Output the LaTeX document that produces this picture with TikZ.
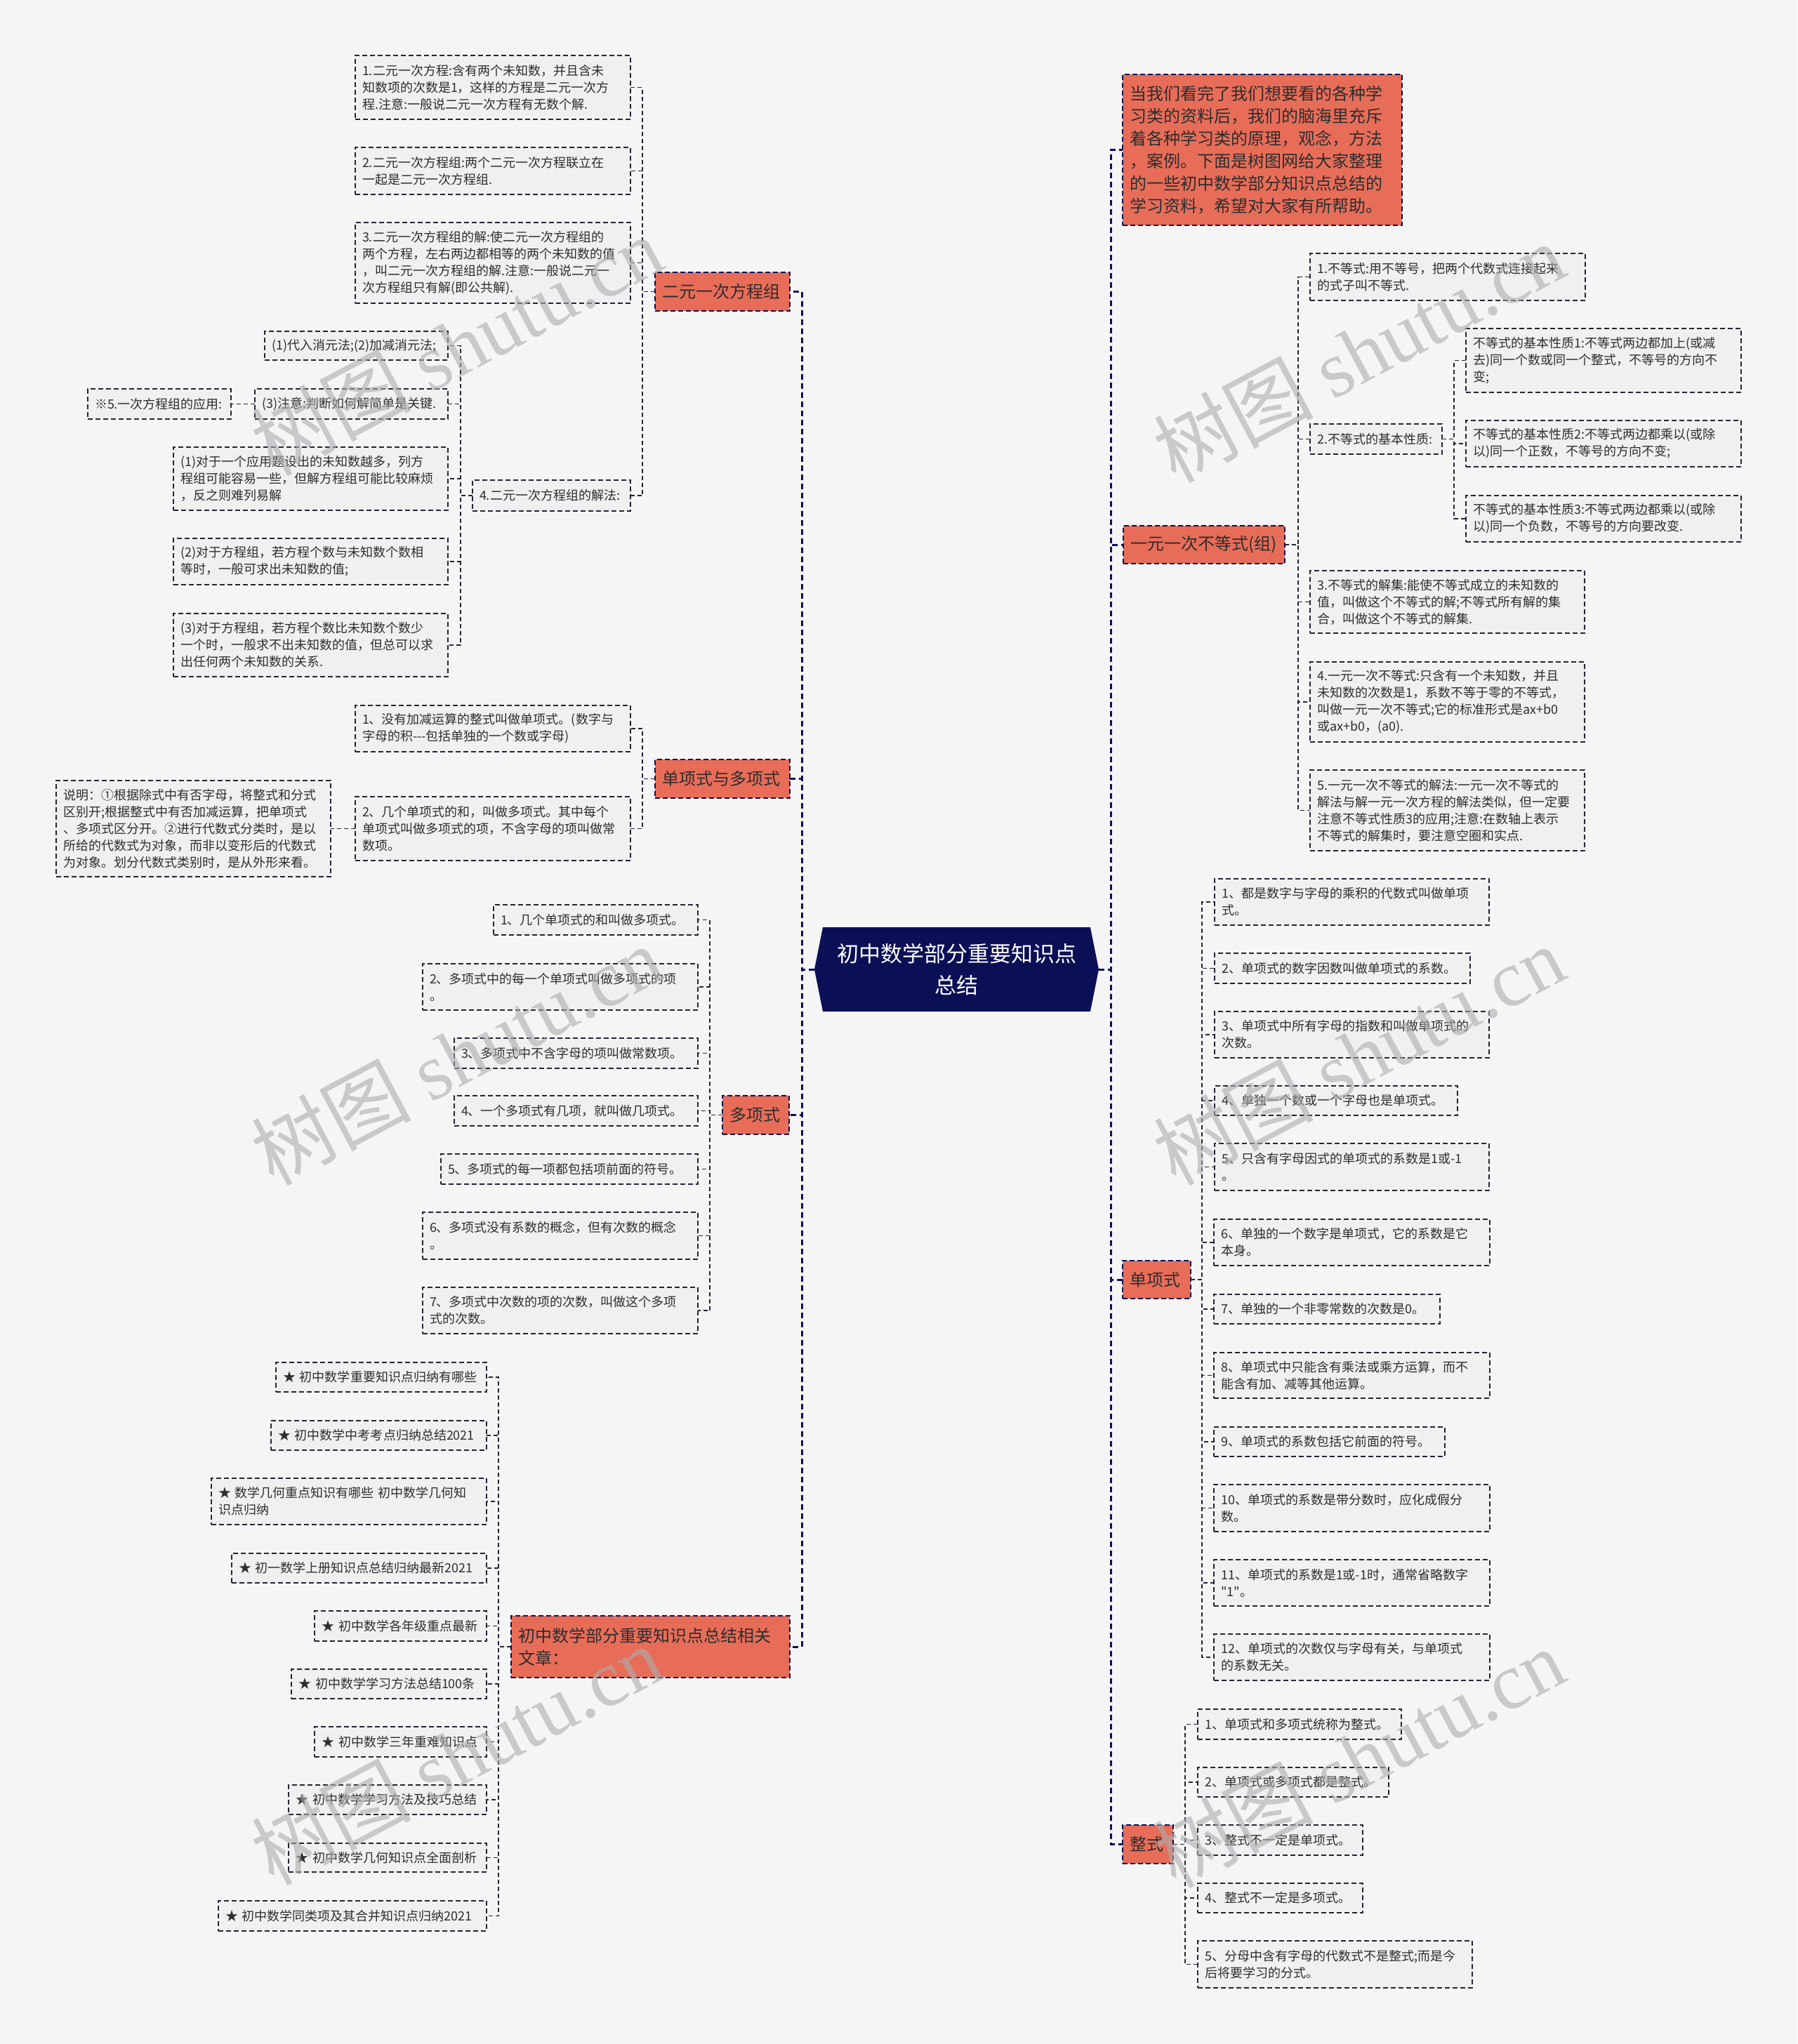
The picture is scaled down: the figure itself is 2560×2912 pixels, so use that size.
\documentclass[tikz,border=0pt]{standalone}
\usepackage{fontspec}
\setmainfont{Noto Sans CJK SC}
\newfontfamily\qfont{Noto Sans CJK SC}
\newfontfamily\wmlatin{Liberation Serif}
\usetikzlibrary{calc}
\definecolor{bgc}{RGB}{245,245,245}
\definecolor{navy}{RGB}{11,15,86}
\definecolor{salmon}{RGB}{231,109,89}
\definecolor{leafc}{RGB}{240,240,240}
\definecolor{edgec}{RGB}{35,35,55}
\definecolor{txt}{RGB}{45,45,45}
\pgfdeclarelayer{back}\pgfdeclarelayer{mid}\pgfdeclarelayer{front}
\pgfsetlayers{back,mid,main,front}
\newcommand\MkNode[7]{%
  \pgfmathsetmacro\mkw{#5-#3}%
  \pgfmathsetmacro\mkh{#6-#4}%
  \pgfmathsetmacro\mktw{#5-#3-20}%
  \node[#1, anchor=north west, minimum width=\mkw pt, minimum height=\mkh pt, text width=\mktw pt] (#2) at (#3,#4) {#7};}
\begin{document}
\begin{tikzpicture}[x=1pt,y=-1pt,
  leaf/.style={draw=edgec, dash pattern=on 7pt off 4pt, line width=1.5pt, fill=leafc, text=txt,
    font=\fontsize{18}{24}\selectfont, align=left, inner xsep=10pt, inner ysep=3pt, outer sep=0pt},
  branch/.style={draw=navy, dash pattern=on 7pt off 4pt, line width=1.8pt, fill=salmon, text=txt,
    font=\fontsize{24}{32}\selectfont, align=left, inner xsep=10pt, inner ysep=3pt, outer sep=0pt},
  conn/.style={draw=edgec, line width=1.5pt, dash pattern=on 6pt off 4pt},
  trunk/.style={draw=navy, line width=3pt, dash pattern=on 8pt off 5pt},
  wm/.style={rotate=28, text=black!32, opacity=0.6, font=\fontsize{114}{114}\selectfont}]
\useasboundingbox (0,0) rectangle (2560,2912);
\begin{pgfonlayer}{back}
\fill[bgc] (0,0) rectangle (2560,2912);
\end{pgfonlayer}

% root
\node[anchor=north west, minimum width=405pt, minimum height=120pt, text=white, align=center,
  font=\fontsize{31}{45}\selectfont, inner sep=0pt, outer sep=0pt] (root) at (1160,1321) {初中数学部分重要知识点\\总结};
\begin{pgfonlayer}{mid}
\fill[navy] ([xshift=12pt]root.north west) -- (root.west) -- ([xshift=12pt]root.south west)
  -- ([xshift=-12pt]root.south east) -- (root.east) -- ([xshift=-12pt]root.north east) -- cycle;
\end{pgfonlayer}

% ===== left: 二元一次方程组
\MkNode{branch}{A}{933}{388}{1125}{443}{二元一次方程组}
\MkNode{leaf}{A1}{506}{79}{898}{170}{1.二元一次方程:含有两个未知数，并且含未\\知数项的次数是1，这样的方程是二元一次方\\程.注意:一般说二元一次方程有无数个解.}
\MkNode{leaf}{A2}{506}{210}{898}{277}{2.二元一次方程组:两个二元一次方程联立在\\一起是二元一次方程组.}
\MkNode{leaf}{A3}{506}{317}{898}{432}{3.二元一次方程组的解:使二元一次方程组的\\两个方程，左右两边都相等的两个未知数的值\\，叫二元一次方程组的解.注意:一般说二元一\\次方程组只有解(即公共解).}
\MkNode{leaf}{A4}{673}{684}{898}{728}{4.二元一次方程组的解法:}
\MkNode{leaf}{A4a}{377}{472}{638}{513}{(1)代入消元法;(2)加减消元法;}
\MkNode{leaf}{A4b}{363}{554}{638}{597}{(3)注意:判断如何解简单是关键.}
\MkNode{leaf}{A4b1}{125}{554}{329}{597}{※5.一次方程组的应用:}
\MkNode{leaf}{A4c}{247}{637}{638}{727}{(1)对于一个应用题设出的未知数越多，列方\\程组可能容易一些，但解方程组可能比较麻烦\\，反之则难列易解}
\MkNode{leaf}{A4d}{247}{767}{638}{833}{(2)对于方程组，若方程个数与未知数个数相\\等时，一般可求出未知数的值;}
\MkNode{leaf}{A4e}{247}{874}{638}{964}{(3)对于方程组，若方程个数比未知数个数少\\一个时，一般求不出未知数的值，但总可以求\\出任何两个未知数的关系.}

% ===== 单项式与多项式
\MkNode{branch}{B}{933}{1082}{1125}{1137}{单项式与多项式}
\MkNode{leaf}{B1}{506}{1005}{898}{1071}{1、没有加减运算的整式叫做单项式。(数字与\\字母的积-{}-{}-包括单独的一个数或字母)}
\MkNode{leaf}{B2}{506}{1135}{898}{1226}{2、几个单项式的和，叫做多项式。其中每个\\单项式叫做多项式的项，不含字母的项叫做常\\数项。}
\MkNode{leaf}{B2a}{80}{1112}{471}{1249}{说明：①根据除式中有否字母，将整式和分式\\区别开;根据整式中有否加减运算，把单项式\\、多项式区分开。②进行代数式分类时，是以\\所给的代数式为对象，而非以变形后的代数式\\为对象。划分代数式类别时，是从外形来看。}

% ===== 多项式
\MkNode{branch}{C}{1029}{1561}{1124}{1616}{多项式}
\MkNode{leaf}{C1}{703}{1289}{994}{1332}{1、几个单项式的和叫做多项式。}
\MkNode{leaf}{C2}{602}{1373}{994}{1439}{2、多项式中的每一个单项式叫做多项式的项\\。}
\MkNode{leaf}{C3}{647}{1479}{994}{1522}{3、多项式中不含字母的项叫做常数项。}
\MkNode{leaf}{C4}{647}{1561}{994}{1604}{4、一个多项式有几项，就叫做几项式。}
\MkNode{leaf}{C5}{628}{1644}{994}{1687}{5、多项式的每一项都包括项前面的符号。}
\MkNode{leaf}{C6}{602}{1727}{994}{1794}{6、多项式没有系数的概念，但有次数的概念\\。}
\MkNode{leaf}{C7}{602}{1834}{994}{1900}{7、多项式中次数的项的次数，叫做这个多项\\式的次数。}

% ===== 相关文章
\MkNode{branch}{D}{728}{2302}{1125}{2390}{初中数学部分重要知识点总结相关\\文章：}
\MkNode{leaf}{D1}{393}{1941}{693}{1983}{★ 初中数学重要知识点归纳有哪些}
\MkNode{leaf}{D2}{386}{2024}{693}{2066}{★ 初中数学中考考点归纳总结2021}
\MkNode{leaf}{D3}{301}{2106}{693}{2172}{★ 数学几何重点知识有哪些 初中数学几何知\\识点归纳}
\MkNode{leaf}{D4}{330}{2213}{693}{2255}{★ 初一数学上册知识点总结归纳最新2021}
\MkNode{leaf}{D5}{448}{2295}{693}{2338}{★ 初中数学各年级重点最新}
\MkNode{leaf}{D6}{415}{2378}{693}{2420}{★ 初中数学学习方法总结100条}
\MkNode{leaf}{D7}{448}{2460}{693}{2503}{★ 初中数学三年重难知识点}
\MkNode{leaf}{D8}{411}{2543}{693}{2585}{★ 初中数学学习方法及技巧总结}
\MkNode{leaf}{D9}{411}{2626}{693}{2667}{★ 初中数学几何知识点全面剖析}
\MkNode{leaf}{D10}{311}{2708}{693}{2751}{★ 初中数学同类项及其合并知识点归纳2021}

% ===== right: intro
\MkNode{branch}{E}{1599}{106}{1997}{321}{当我们看完了我们想要看的各种学\\习类的资料后，我们的脑海里充斥\\着各种学习类的原理，观念，方法\\，案例。下面是树图网给大家整理\\的一些初中数学部分知识点总结的\\学习资料，希望对大家有所帮助。}

% ===== 一元一次不等式(组)
\MkNode{branch}{F}{1600}{749}{1830}{803}{一元一次不等式(组)}
\MkNode{leaf}{F1}{1866}{361}{2258}{428}{1.不等式:用不等号，把两个代数式连接起来\\的式子叫不等式.}
\MkNode{leaf}{F2}{1866}{604}{2054}{647}{2.不等式的基本性质:}
\MkNode{leaf}{F2a}{2088}{468}{2480}{559}{不等式的基本性质1:不等式两边都加上(或减\\去)同一个数或同一个整式，不等号的方向不\\变;}
\MkNode{leaf}{F2b}{2088}{599}{2480}{665}{不等式的基本性质2:不等式两边都乘以(或除\\以)同一个正数，不等号的方向不变;}
\MkNode{leaf}{F2c}{2088}{706}{2480}{772}{不等式的基本性质3:不等式两边都乘以(或除\\以)同一个负数，不等号的方向要改变.}
\MkNode{leaf}{F3}{1866}{813}{2257}{902}{3.不等式的解集:能使不等式成立的未知数的\\值，叫做这个不等式的解;不等式所有解的集\\合，叫做这个不等式的解集.}
\MkNode{leaf}{F4}{1866}{943}{2257}{1057}{4.一元一次不等式:只含有一个未知数，并且\\未知数的次数是1，系数不等于零的不等式，\\叫做一元一次不等式;它的标准形式是ax+b0\\或ax+b0，(a0).}
\MkNode{leaf}{F5}{1866}{1097}{2257}{1212}{5.一元一次不等式的解法:一元一次不等式的\\解法与解一元一次方程的解法类似，但一定要\\注意不等式性质3的应用;注意:在数轴上表示\\不等式的解集时，要注意空圈和实点.}

% ===== 单项式
\MkNode{branch}{G}{1599}{1796}{1696}{1850}{单项式}
\MkNode{leaf}{G1}{1730}{1252}{2121}{1318}{1、都是数字与字母的乘积的代数式叫做单项\\式。}
\MkNode{leaf}{G2}{1730}{1358}{2094}{1401}{2、单项式的数字因数叫做单项式的系数。}
\MkNode{leaf}{G3}{1730}{1441}{2121}{1507}{3、单项式中所有字母的指数和叫做单项式的\\次数。}
\MkNode{leaf}{G4}{1730}{1547}{2076}{1589}{4、单独一个数或一个字母也是单项式。}
\MkNode{leaf}{G5}{1730}{1629}{2121}{1696}{5、只含有字母因式的单项式的系数是1或-1\\。}
\MkNode{leaf}{G6}{1729}{1737}{2122}{1803}{6、单独的一个数字是单项式，它的系数是它\\本身。}
\MkNode{leaf}{G7}{1729}{1844}{2051}{1886}{7、单独的一个非零常数的次数是0。}
\MkNode{leaf}{G8}{1729}{1927}{2122}{1992}{8、单项式中只能含有乘法或乘方运算，而不\\能含有加、减等其他运算。}
\MkNode{leaf}{G9}{1729}{2033}{2058}{2075}{9、单项式的系数包括它前面的符号。}
\MkNode{leaf}{G10}{1729}{2115}{2122}{2182}{10、单项式的系数是带分数时，应化成假分\\数。}
\MkNode{leaf}{G11}{1729}{2222}{2122}{2288}{11、单项式的系数是1或-1时，通常省略数字\\{\qfont "1"}。}
\MkNode{leaf}{G12}{1729}{2328}{2122}{2394}{12、单项式的次数仅与字母有关，与单项式\\的系数无关。}

% ===== 整式
\MkNode{branch}{H}{1599}{2600}{1671}{2655}{整式}
\MkNode{leaf}{H1}{1706}{2435}{1996}{2478}{1、单项式和多项式统称为整式。}
\MkNode{leaf}{H2}{1706}{2518}{1978}{2560}{2、单项式或多项式都是整式。}
\MkNode{leaf}{H3}{1706}{2600}{1941}{2643}{3、整式不一定是单项式。}
\MkNode{leaf}{H4}{1706}{2683}{1941}{2725}{4、整式不一定是多项式。}
\MkNode{leaf}{H5}{1706}{2765}{2097}{2832}{5、分母中含有字母的代数式不是整式;而是今\\后将要学习的分式。}

% ===== connectors
\begin{pgfonlayer}{mid}
\foreach \c in {A,B,C,D} \draw[trunk] (root.west) -- ++(-18,0) |- (\c.east);
\foreach \c in {E,F,G,H} \draw[trunk] (root.east) -- ++(17,0) |- (\c.west);
\foreach \c in {A1,A2,A3,A4} \draw[conn] (A.west) -- ++(-18,0) |- (\c.east);
\foreach \c in {A4a,A4b,A4c,A4d,A4e} \draw[conn] (A4.west) -- ++(-17,0) |- (\c.east);
\draw[conn] (A4b.west) -- (A4b1.east);
\foreach \c in {B1,B2} \draw[conn] (B.west) -- ++(-18,0) |- (\c.east);
\draw[conn] (B2.west) -- (B2a.east);
\foreach \c in {C1,C2,C3,C4,C5,C6,C7} \draw[conn] (C.west) -- ++(-18,0) |- (\c.east);
\foreach \c in {D1,D2,D3,D4,D5,D6,D7,D8,D9,D10} \draw[conn] (D.west) -- ++(-18,0) |- (\c.east);
\foreach \c in {F1,F2,F3,F4,F5} \draw[conn] (F.east) -- ++(19,0) |- (\c.west);
\foreach \c in {F2a,F2b,F2c} \draw[conn] (F2.east) -- ++(17,0) |- (\c.west);
\foreach \c in {G1,G2,G3,G4,G5,G6,G7,G8,G9,G10,G11,G12} \draw[conn] (G.east) -- ++(16,0) |- (\c.west);
\foreach \c in {H1,H2,H3,H4,H5} \draw[conn] (H.east) -- ++(17,0) |- (\c.west);
\end{pgfonlayer}

% ===== watermarks
\begin{pgfonlayer}{front}
\node[wm] (wm1) at (650,492) {树图 {\wmlatin shutu.cn}};
\node[wm] (wm2) at (650,1503) {树图 {\wmlatin shutu.cn}};
\node[wm] (wm3) at (650,2500) {树图 {\wmlatin shutu.cn}};
\node[wm] (wm4) at (1935,502) {树图 {\wmlatin shutu.cn}};
\node[wm] (wm5) at (1935,1503) {树图 {\wmlatin shutu.cn}};
\node[wm] (wm6) at (1935,2504) {树图 {\wmlatin shutu.cn}};
\end{pgfonlayer}
\end{tikzpicture}
\end{document}
